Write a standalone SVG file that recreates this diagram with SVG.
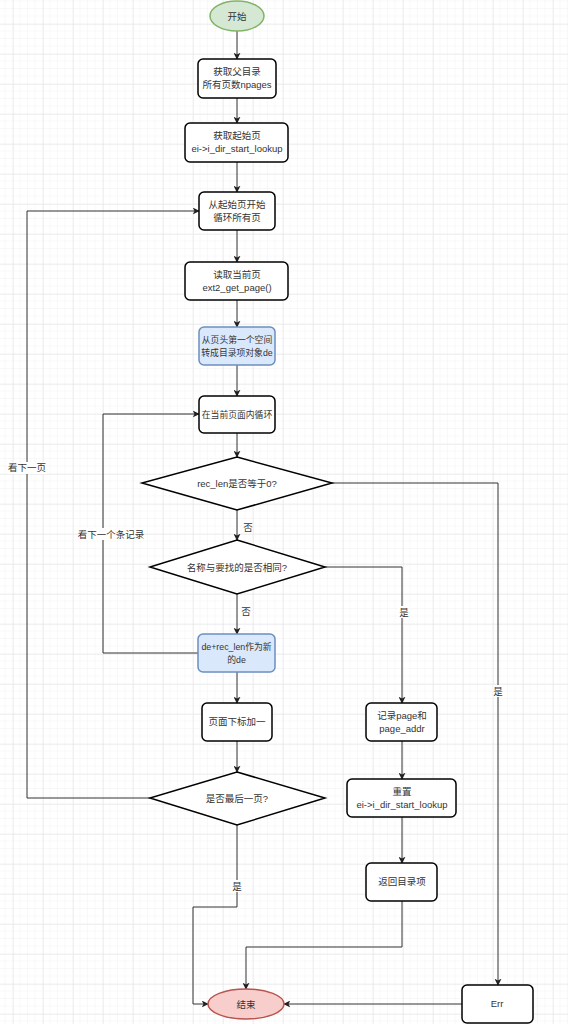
<svg xmlns="http://www.w3.org/2000/svg" width="568" height="1024" viewBox="0 0 568 1024">
<defs>
<pattern id="minor" width="7.5" height="7.5" patternUnits="userSpaceOnUse" x="5.5" y="1.5">
<path d="M7.5 0V7.5M0 7.5H7.5" fill="none" stroke="#f2f2f2" stroke-width="1"/>
</pattern>
<pattern id="major" width="30" height="30" patternUnits="userSpaceOnUse" x="13" y="24">
<path d="M0 0V30M0 0H30" fill="none" stroke="#e4e4e4" stroke-width="1"/>
</pattern>
<marker id="arr" viewBox="0 0 10 10" refX="9" refY="5" markerWidth="7" markerHeight="7" orient="auto" markerUnits="userSpaceOnUse">
<path d="M0 0L10 5L0 10L2.5 5Z" fill="#222"/>
</marker>
<style>
.box{fill:#fff;stroke:#000;stroke-width:1.5}
.blue{fill:#dae8fc;stroke:#6c8ebf;stroke-width:1.5}
.t{font-family:"Liberation Sans","Noto Sans CJK SC",sans-serif;font-size:9.5px;fill:#333;text-anchor:middle}
.s{font-size:8.8px}
.c{fill:none;stroke:#333;stroke-width:1}
.lbl{font-family:"Liberation Sans","Noto Sans CJK SC",sans-serif;font-size:9.5px;fill:#333;text-anchor:middle}
.bg{fill:#fff}
</style>
</defs>
<rect width="568" height="1024" fill="#fff"/>
<rect width="568" height="1024" fill="url(#minor)"/>
<rect width="568" height="1024" fill="url(#major)"/>

<g id="connectors">
<path class="c" d="M237 31V59" marker-end="url(#arr)"/>
<path class="c" d="M237 98V123" marker-end="url(#arr)"/>
<path class="c" d="M237 162V192" marker-end="url(#arr)"/>
<path class="c" d="M237 230V262" marker-end="url(#arr)"/>
<path class="c" d="M237 300V327" marker-end="url(#arr)"/>
<path class="c" d="M237 365V396" marker-end="url(#arr)"/>
<path class="c" d="M237 433V457" marker-end="url(#arr)"/>
<path class="c" d="M237 510V540" marker-end="url(#arr)"/>
<path class="c" d="M237 594V634" marker-end="url(#arr)"/>
<path class="c" d="M237 672V703" marker-end="url(#arr)"/>
<path class="c" d="M237 741V772" marker-end="url(#arr)"/>
<path class="c" d="M332 483H498V985" marker-end="url(#arr)"/>
<path class="c" d="M325 567H402V703" marker-end="url(#arr)"/>
<path class="c" d="M402 741V779" marker-end="url(#arr)"/>
<path class="c" d="M402 817V863" marker-end="url(#arr)"/>
<path class="c" d="M402 901V947H246V989" marker-end="url(#arr)"/>
<path class="c" d="M462 1004H284" marker-end="url(#arr)"/>
<path class="c" d="M237 825V907H193V1004H208" marker-end="url(#arr)"/>
<path class="c" d="M198 653H103V414H199" marker-end="url(#arr)"/>
<path class="c" d="M150 798H27V211H199" marker-end="url(#arr)"/>
<text class="lbl" x="248" y="531">否</text>
<text class="lbl" x="246" y="615">否</text>
<rect class="bg" x="398" y="606" width="10" height="12"/>
<text class="lbl" x="404" y="616">是</text>
<rect class="bg" x="493" y="685" width="10" height="12"/>
<text class="lbl" x="498" y="695">是</text>
<rect class="bg" x="231" y="880" width="12" height="12"/>
<text class="lbl" x="237" y="890">是</text>
<rect class="bg" x="8" y="462" width="38" height="12"/>
<text class="lbl" x="27" y="471">看下一页</text>
<rect class="bg" x="78" y="528" width="66" height="12"/>
<text class="lbl" x="111" y="538">看下一个条记录</text>
</g>

<g id="start">
<ellipse cx="237" cy="16" rx="27" ry="15" fill="#d5e8d4" stroke="#82b366" stroke-width="1.5"/>
<text class="t" x="237" y="19.5">开始</text>
</g>
<g id="n1">
<rect class="box" x="198" y="59" width="78" height="39" rx="5"/>
<text class="t" x="237" y="75">获取父目录</text>
<text class="t" x="237" y="88">所有页数npages</text>
</g>
<g id="n2">
<rect class="box" x="185" y="123" width="103" height="39" rx="5"/>
<text class="t" x="237" y="139">获取起始页</text>
<text class="t" x="237" y="152">ei-&gt;i_dir_start_lookup</text>
</g>
<g id="n3">
<rect class="box" x="199" y="192" width="76" height="38" rx="5"/>
<text class="t" x="237" y="208">从起始页开始</text>
<text class="t" x="237" y="221">循环所有页</text>
</g>
<g id="n4">
<rect class="box" x="185" y="262" width="103" height="38" rx="5"/>
<text class="t" x="237" y="278">读取当前页</text>
<text class="t" x="237" y="291">ext2_get_page()</text>
</g>
<g id="n5">
<rect class="blue" x="199" y="327" width="76" height="38" rx="5"/>
<text class="t s" x="237" y="343">从页头第一个空间</text>
<text class="t s" x="237" y="356">转成目录项对象de</text>
</g>
<g id="n6">
<rect class="box" x="199" y="396" width="76" height="37" rx="5"/>
<text class="t s" x="237" y="418">在当前页面内循环</text>
</g>
<g id="d1">
<path class="box" d="M237 457L332 483L237 510L142 483Z"/>
<text class="t" x="237" y="486.5">rec_len是否等于0?</text>
</g>
<g id="d2">
<path class="box" d="M237 540L325 567L237 594L150 567Z"/>
<text class="t" x="237" y="570.5">名称与要找的是否相同?</text>
</g>
<g id="n7">
<rect class="blue" x="198" y="634" width="77" height="38" rx="5"/>
<text class="t s" x="236.5" y="650">de+rec_len作为新</text>
<text class="t s" x="236.5" y="663">的de</text>
</g>
<g id="n8">
<rect class="box" x="202" y="703" width="70" height="38" rx="5"/>
<text class="t" x="237" y="725">页面下标加一</text>
</g>
<g id="n9">
<rect class="box" x="366" y="703" width="71" height="38" rx="5"/>
<text class="t" x="402" y="719">记录page和</text>
<text class="t" x="402" y="732">page_addr</text>
</g>
<g id="d3">
<path class="box" d="M237 772L325 798L237 825L150 798Z"/>
<text class="t" x="237" y="801.5">是否最后一页?</text>
</g>
<g id="n10">
<rect class="box" x="347" y="779" width="109" height="38" rx="5"/>
<text class="t" x="402" y="795">重置</text>
<text class="t" x="402" y="808">ei-&gt;i_dir_start_lookup</text>
</g>
<g id="n11">
<rect class="box" x="366" y="863" width="71" height="38" rx="5"/>
<text class="t" x="402" y="885">返回目录项</text>
</g>
<g id="err">
<rect class="box" x="462" y="985" width="71" height="38" rx="5"/>
<text class="t" x="497" y="1007">Err</text>
</g>
<g id="end">
<ellipse cx="246" cy="1004" rx="38" ry="15" fill="#f8cecc" stroke="#b85450" stroke-width="1.5"/>
<text class="t" x="246" y="1007.5">结束</text>
</g>
</svg>
